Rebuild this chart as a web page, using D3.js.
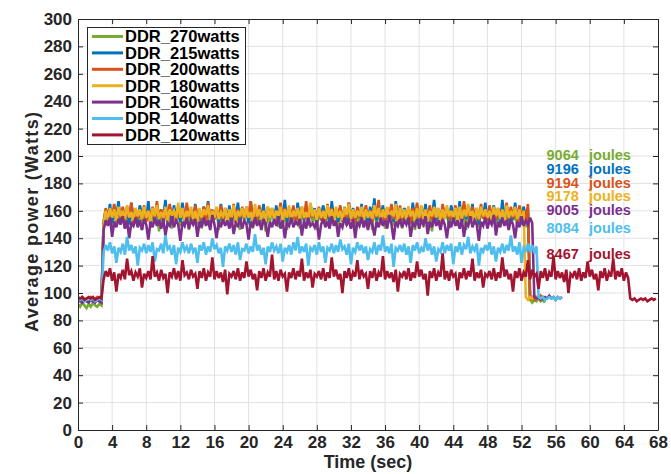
<!DOCTYPE html>
<html><head><meta charset="utf-8">
<script src="https://cdn.jsdelivr.net/npm/d3@7"></script>
<style>
body{margin:0;background:#fff}
text{font-family:"Liberation Sans",Arial,Helvetica,sans-serif;font-weight:bold}
</style>
</head><body><svg id="c" width="671" height="474"></svg>
<script>
// ---------- data ----------
const sampleStep = 0.25; // seconds between samples
const xTicks = [0,4,8,12,16,20,24,28,32,36,40,44,48,52,56,60,64,68];
const yTicks = [0,20,40,60,80,100,120,140,160,180,200,220,240,260,280,300];
const seriesNames = ["DDR_270watts","DDR_215watts","DDR_200watts","DDR_180watts","DDR_160watts","DDR_140watts","DDR_120watts"];
const seriesColors = ["#77AC30","#0072BD","#D95319","#EDB120","#7E2F8E","#4DBEEE","#A2142F"];
const energyJoules = [9064,9196,9194,9178,9005,8084,8467];

const ddr270 = [92,90,93,91,89,92,90,93,91,90,92,91,
148,158,152,161,146,159,153,160,150,162,147,157,154,161,149,158,152,163,146,159,
153,160,148,162,151,158,145,161,154,159,150,163,147,158,153,161,149,160,152,162,
146,159,154,161,150,158,147,163,152,160,149,157,155,162,146,159,151,161,153,158,
148,162,152,159,146,160,154,161,150,163,147,158,153,160,149,162,145,159,152,161,
154,160,148,163,151,158,146,161,153,159,150,162,147,160,155,158,149,163,152,159,
146,161,153,158,150,162,148,160,154,161,147,159,152,163,149,158,155,160,146,162,
151,159,148,161,153,160,146,163,152,158,150,162,147,159,154,161,149,160,152,158,
147,162,153,159,150,161,146,158,154,163,148,160,152,159,145,161,153,162,150,158,
154,160,147,162,151,159,149,161,153,158,146,163,152,160,150,159,148,162,155,161,
149,158,152,163,146,160,154,159,150,162,147,161,153,158,149,160,151,163,148,159,
95,93,95,94,96,94,95,93];
const ddr215 = [95,94,96,95,94,95,96,94,95,96,94,95,
152,161,155,165,151,160,156,167,153,159,154,163,150,166,155,160,152,164,156,161,
153,167,151,160,155,163,152,159,156,168,153,161,150,164,155,160,152,166,154,162,
156,160,152,165,153,161,150,163,155,167,152,160,156,162,151,165,154,160,153,164,
150,162,155,166,152,160,156,163,151,167,154,161,153,159,155,165,150,162,156,160,
153,164,151,161,155,168,152,160,154,163,150,166,156,161,153,159,152,165,155,162,
151,160,156,164,153,162,150,167,155,161,152,163,156,160,151,166,154,162,153,160,
155,165,152,161,150,163,156,169,153,160,155,164,151,162,154,160,152,167,156,161,
153,162,155,160,151,166,154,163,152,159,156,165,150,161,155,168,153,160,152,163,
156,161,150,164,155,160,153,167,151,162,154,160,156,165,152,161,150,163,155,166,
152,160,156,164,153,161,151,168,155,162,152,159,154,166,156,161,150,163,153,162,
97,96,98,96,97,96,97,95];
const ddr200 = [96,95,97,96,95,96,97,95,96,97,95,96,
151,162,154,160,156,165,152,161,155,163,153,159,156,166,151,162,154,160,155,164,
152,160,156,163,153,167,155,161,151,162,154,165,156,160,152,163,155,161,153,166,
155,161,152,164,156,160,153,163,151,166,155,161,154,159,156,164,152,162,155,160,
153,165,151,161,155,163,154,160,156,167,152,161,153,164,155,160,151,163,156,162,
154,160,156,166,152,162,155,161,153,164,151,160,156,163,154,167,152,161,155,160,
156,163,153,160,151,165,155,162,154,161,156,164,152,160,155,166,153,161,151,163,
155,161,154,164,156,160,152,163,155,168,153,161,151,162,156,165,154,160,152,164,
153,160,156,163,151,162,155,166,154,161,152,160,156,164,153,162,155,161,151,165,
156,162,153,160,155,164,152,161,154,167,156,160,151,163,155,162,153,165,154,160,
152,164,155,161,153,162,156,160,151,166,154,163,155,161,152,164,156,160,153,165,
96,97,95,97,96,98,96,97];
const ddr180 = [95,96,94,95,96,94,95,96,94,95,96,95,
150,160,154,162,155,161,153,163,156,160,154,164,155,159,153,162,156,161,154,163,
155,160,152,162,156,164,154,159,155,163,153,161,157,160,154,166,155,162,153,160,
156,163,154,160,152,162,155,161,157,164,153,160,155,163,154,159,156,162,152,161,
155,164,153,160,156,162,154,163,155,159,153,165,156,161,154,160,152,163,155,162,
154,160,156,163,153,161,155,164,152,160,156,162,154,163,155,159,153,166,156,161,
153,162,155,160,154,164,156,161,152,163,155,160,153,162,157,165,154,161,155,160,
156,163,153,161,155,160,154,164,156,162,152,161,155,163,154,160,156,165,153,162,
155,161,154,163,156,160,153,162,155,164,154,161,152,160,156,163,155,162,153,161,
154,164,156,160,155,162,153,163,154,161,156,165,155,160,152,162,154,163,156,161,
155,160,153,163,156,162,154,161,152,164,155,160,156,163,154,161,153,160,
97,95,97,96,98,96,97,95,97,96];
const ddr160 = [94,95,93,95,94,93,95,94,93,95,94,93,
146,153,149,155,141,152,148,154,150,156,147,153,140,151,149,155,148,153,146,154,
150,139,152,148,155,149,153,147,154,142,151,149,156,148,153,150,138,152,149,155,
147,153,150,154,141,152,148,155,149,153,146,157,150,140,152,148,154,149,153,147,
155,143,151,149,154,147,153,150,139,152,148,155,149,153,146,154,150,141,152,148,
154,149,156,147,153,140,151,149,155,148,152,150,154,142,153,147,155,149,151,148,
153,139,150,154,148,152,147,156,149,153,141,151,148,155,150,153,147,154,140,152,
149,155,148,153,146,154,150,142,152,148,155,149,153,147,157,150,139,152,149,154,
148,153,150,155,141,151,149,154,147,153,150,156,143,152,148,155,149,153,146,154,
150,140,152,148,155,149,153,147,154,141,151,149,156,148,153,150,138,152,149,155,
147,153,150,157,142,152,148,155,149,153,146,154,150,140,152,148,156,149,153,150,
155,151,
97,96,97,95,96,97,96,98,96,97,95,97,96,97];
const ddr140 = [96,95,96,94,95,96,95,96,94,95,96,95,
130,135,131,137,129,134,122,133,130,136,128,141,131,135,129,134,120,133,131,136,
129,135,130,137,123,132,131,136,129,142,132,134,128,135,121,133,130,137,131,134,
129,136,130,133,122,135,131,137,128,134,130,140,132,135,129,133,119,134,131,136,
130,135,128,137,124,132,131,136,129,134,130,143,131,135,128,133,121,134,130,137,
131,134,129,136,123,133,130,135,128,137,131,141,129,134,130,136,120,133,131,135,
128,137,130,134,122,133,131,136,129,135,130,139,132,134,128,136,121,133,130,137,
131,135,129,134,124,132,130,137,128,135,131,142,130,134,129,136,119,133,131,135,
130,136,128,134,122,135,131,137,129,133,130,140,131,136,128,134,123,132,130,137,
129,135,131,136,121,134,130,137,128,135,132,141,129,134,131,136,120,133,130,135,
131,137,128,134,123,133,130,136,129,135,131,142,130,134,128,137,122,133,131,136,
130,135,129,134,
97,96,97,95,96,97,96,97,95,97,96,97];
const ddr120 = [97,96,97,95,96,97,96,97,95,96,97,96,
110,116,112,118,109,115,101,114,111,117,110,125,113,116,109,115,112,118,104,114,
111,116,110,127,112,115,109,117,111,114,100,115,112,118,110,116,109,124,113,115,
110,117,112,114,103,116,111,118,109,115,112,126,110,116,111,115,108,117,99,114,
112,116,110,118,109,115,111,123,112,117,110,114,102,116,111,118,109,115,112,128,
110,116,109,117,112,114,101,115,111,118,110,116,112,125,109,115,111,117,104,114,
112,116,110,118,109,115,111,126,112,117,110,114,100,116,111,118,109,115,112,124,
110,117,112,114,103,116,111,118,109,115,112,127,110,116,111,115,108,117,101,114,
112,116,110,118,109,115,111,123,112,117,110,114,98,116,111,118,109,115,112,129,
110,116,109,117,112,114,102,115,111,118,110,116,112,125,109,115,111,117,104,114,
112,116,110,118,109,115,111,126,112,117,110,114,101,116,111,118,109,115,112,124,
110,117,112,114,103,116,111,118,109,115,112,127,110,116,111,115,108,117,100,114,
112,116,110,118,109,115,111,123,112,117,110,114,102,116,111,118,109,115,112,125,
110,116,112,118,109,115,111,
96,95,96,94,95,96,95,96,94,95,96,95,96];
const seriesValues = [ddr270,ddr215,ddr200,ddr180,ddr160,ddr140,ddr120];

// ---------- drawing ----------
const svg = d3.select('#c');
const M = {l:78, r:658, t:19, b:430};
const x = d3.scaleLinear().domain([0,68]).range([M.l,M.r]);
const y = d3.scaleLinear().domain([0,300]).range([M.b,M.t]);
const ink = '#262626';

svg.append('rect').attr('x',M.l).attr('y',M.t).attr('width',M.r-M.l).attr('height',M.b-M.t).attr('fill','#fff');

const grid = svg.append('g').attr('stroke','#e2e2e2').attr('stroke-width',1);
grid.selectAll('.gx').data(xTicks.slice(1,-1)).join('line')
  .attr('x1',d=>x(d)).attr('x2',d=>x(d)).attr('y1',M.t).attr('y2',M.b);
grid.selectAll('.gy').data(yTicks.slice(1,-1)).join('line')
  .attr('y1',d=>y(d)).attr('y2',d=>y(d)).attr('x1',M.l).attr('x2',M.r);

svg.append('clipPath').attr('id','pc').append('rect')
  .attr('x',M.l).attr('y',M.t).attr('width',M.r-M.l).attr('height',M.b-M.t);

const line = d3.line().x((d,i)=>x(i*sampleStep)).y(d=>y(d));
const lines = svg.append('g').attr('clip-path','url(#pc)');
seriesValues.forEach((vals,k)=>{
  lines.append('path').datum(vals).attr('d',line)
    .attr('fill','none').attr('stroke',seriesColors[k]).attr('stroke-width',2.6)
    .attr('stroke-linejoin','miter').attr('stroke-miterlimit',3);
});

function styleAxis(g, fs){
  g.attr('font-family',null).attr('font-size',fs);
  g.selectAll('path.domain').attr('stroke',ink).attr('stroke-width',1);
  g.selectAll('.tick line').attr('stroke',ink);
  g.selectAll('.tick text').attr('fill',ink).attr('font-weight','bold');
}
const xAxis = svg.append('g').attr('transform',`translate(0,${M.b})`)
  .call(d3.axisBottom(x).tickValues(xTicks).tickSizeInner(-5).tickSizeOuter(0).tickPadding(6));
styleAxis(xAxis,17);
const xTop = svg.append('g').attr('transform',`translate(0,${M.t})`)
  .call(d3.axisTop(x).tickValues(xTicks).tickSizeInner(-5).tickSizeOuter(0).tickFormat(''));
styleAxis(xTop,17);
const yAxis = svg.append('g').attr('transform',`translate(${M.l},0)`)
  .call(d3.axisLeft(y).tickValues(yTicks).tickSizeInner(-5).tickSizeOuter(0).tickPadding(6));
styleAxis(yAxis,17);
const yRight = svg.append('g').attr('transform',`translate(${M.r},0)`)
  .call(d3.axisRight(y).tickValues(yTicks).tickSizeInner(-5).tickSizeOuter(0).tickFormat(''));
styleAxis(yRight,17);

// axis labels
svg.append('text').attr('x',(M.l+M.r)/2).attr('y',468).attr('text-anchor','middle')
  .attr('font-size',18).attr('fill',ink).text('Time (sec)');
svg.append('text').attr('transform','translate(38,222) rotate(-90)').attr('text-anchor','middle')
  .attr('font-size',18).attr('fill',ink).attr('textLength',220).attr('lengthAdjust','spacing')
  .text('Average power (Watts)');

// legend
const lg = svg.append('g');
lg.append('rect').attr('x',87.5).attr('y',27.5).attr('width',158).attr('height',117)
  .attr('fill','#fff').attr('stroke',ink).attr('stroke-width',1);
seriesNames.forEach((nm,k)=>{
  const yy = 36.5 + k*16.4;
  lg.append('line').attr('x1',92).attr('x2',123).attr('y1',yy).attr('y2',yy)
    .attr('stroke',seriesColors[k]).attr('stroke-width',3);
  lg.append('text').attr('x',125).attr('y',yy).attr('dy','0.36em').attr('font-size',16.5)
    .attr('fill','#000').text(nm);
});

// energy annotations
const annY = [155,169,182.7,196,210,228.3,254.3];
energyJoules.forEach((j,k)=>{
  svg.append('text').attr('x',546.5).attr('y',annY[k]).attr('dy','0.35em').attr('font-size',14.5)
    .attr('fill',seriesColors[k]).text(j);
  svg.append('text').attr('x',589).attr('y',annY[k]).attr('dy','0.35em').attr('font-size',14.5)
    .attr('fill',seriesColors[k]).text('joules');
});
</script></body></html>
